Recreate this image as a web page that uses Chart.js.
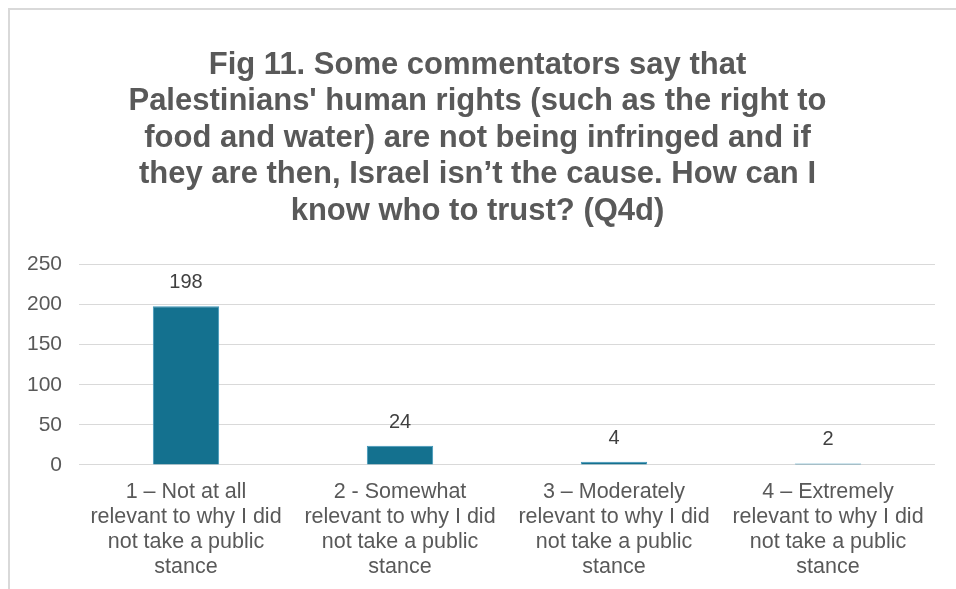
<!DOCTYPE html>
<html>
<head>
<meta charset="utf-8">
<script src="https://cdn.jsdelivr.net/npm/chart.js@4.4.1/dist/chart.umd.min.js"></script>
<style>
  html, body { margin: 0; padding: 0; background: #ffffff; overflow: hidden; }
  #frame {
    position: absolute; left: 8px; top: 8px; width: 1100px; height: 700px;
    border: 2px solid #d9d9d9; box-sizing: border-box;
  }
  #wrap { position: absolute; left: 0; top: 0; width: 956px; height: 589px; }
</style>
</head>
<body>
<div id="frame"></div>
<div id="wrap"><canvas id="chart" width="956" height="589"></canvas></div>
<script>
// Survey responses, Q4d
const titleLines = [
  "Fig 11. Some commentators say that",
  "Palestinians' human rights (such as the right to",
  "food and water) are not being infringed and if",
  "they are then, Israel isn\u2019t the cause. How can I",
  "know who to trust? (Q4d)"
];
const categories = [
  ["1 \u2013 Not at all", "relevant to why I did", "not take a public", "stance"],
  ["2 - Somewhat", "relevant to why I did", "not take a public", "stance"],
  ["3 \u2013 Moderately", "relevant to why I did", "not take a public", "stance"],
  ["4 \u2013 Extremely", "relevant to why I did", "not take a public", "stance"]
];
const responses = [198, 24, 4, 2];
const yTicks = [0, 50, 100, 150, 200, 250];

const FONT = "'Liberation Sans', Arial, sans-serif";

// Writes each bar's value just above it
const valueLabels = {
  id: 'valueLabels',
  afterDatasetsDraw(chart) {
    const { ctx } = chart;
    const meta = chart.getDatasetMeta(0);
    ctx.save();
    ctx.fillStyle = '#404040';
    ctx.font = '20px ' + FONT;
    ctx.textAlign = 'center';
    ctx.textBaseline = 'alphabetic';
    meta.data.forEach((bar, i) => {
      ctx.fillText(String(responses[i]), bar.x, bar.y - 18);
    });
    ctx.restore();
  }
};

new Chart(document.getElementById('chart'), {
  type: 'bar',
  data: {
    labels: categories,
    datasets: [{
      data: responses,
      backgroundColor: '#14718f',
      borderColor: '#3f97bb',
      borderWidth: 1,
      categoryPercentage: 1,
      barPercentage: 0.31
    }]
  },
  options: {
    responsive: false,
    animation: false,
    layout: { padding: { left: 20, right: 21, top: 0, bottom: -6 } },
    plugins: {
      legend: { display: false },
      tooltip: { enabled: false },
      title: {
        display: true,
        text: titleLines,
        color: '#595959',
        font: { family: FONT, size: 31, weight: 'bold', lineHeight: 1.177 },
        padding: { top: 47, bottom: 35 }
      }
    },
    scales: {
      y: {
        min: 0,
        max: 250,
        afterBuildTicks(axis) { axis.ticks = yTicks.map(v => ({ value: v })); },
        afterFit(scale) { scale.width = 59; },
        grid: { color: '#d9d9d9', lineWidth: 1, drawTicks: false },
        border: { display: false },
        ticks: {
          color: '#595959',
          font: { family: FONT, size: 21 },
          padding: 17
        }
      },
      x: {
        afterFit(scale) { scale.paddingLeft = 0; scale.paddingRight = 0; },
        grid: { display: false, drawTicks: false },
        border: { display: false },
        ticks: {
          color: '#595959',
          font: { family: FONT, size: 21.5, lineHeight: 1.163 },
          padding: 15,
          maxRotation: 0,
          autoSkip: false
        }
      }
    }
  },
  plugins: [valueLabels]
});
</script>
</body>
</html>
